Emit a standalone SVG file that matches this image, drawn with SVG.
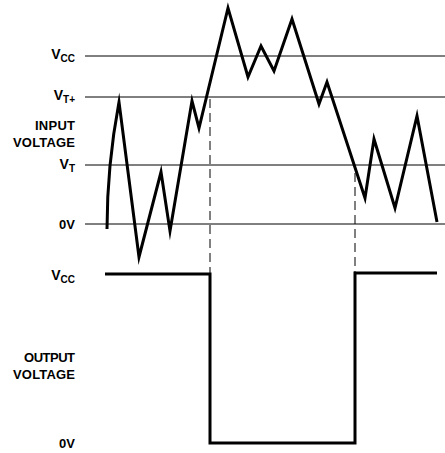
<svg xmlns="http://www.w3.org/2000/svg" width="445" height="453" viewBox="0 0 445 453">
<style>
.lbl{font-family:"Liberation Sans",Arial,sans-serif;font-weight:bold;font-size:13px;fill:#000;text-anchor:end}
.big{font-size:14px}
.sub{font-size:10px}
.grid{stroke:#000;stroke-width:1;fill:none}
.wave{stroke:#000;stroke-width:3;fill:none;stroke-linejoin:miter;stroke-miterlimit:10}
.dash{stroke:#000;stroke-width:1;fill:none;stroke-dasharray:9,5}
</style>
<rect width="445" height="453" fill="#fff"/>
<g id="labels">
<text class="lbl big" x="75" y="59">V<tspan class="sub" dy="3">CC</tspan></text>
<text class="lbl big" x="75" y="100">V<tspan class="sub" dy="3">T+</tspan></text>
<text class="lbl" x="75" y="130" textLength="40">INPUT</text>
<text class="lbl" x="75" y="147" textLength="62">VOLTAGE</text>
<text class="lbl big" x="75" y="169">V<tspan class="sub" dy="3">T</tspan></text>
<text class="lbl" x="75" y="229">0V</text>
<text class="lbl big" x="75" y="280">V<tspan class="sub" dy="3">CC</tspan></text>
<text class="lbl" x="75" y="362" textLength="51">OUTPUT</text>
<text class="lbl" x="75" y="379" textLength="62">VOLTAGE</text>
<text class="lbl" x="75" y="448">0V</text>
</g>
<g id="levels">
<line class="grid" x1="85" y1="56" x2="445" y2="56"/>
<line class="grid" x1="85" y1="97" x2="445" y2="97"/>
<line class="grid" x1="85" y1="165" x2="445" y2="165"/>
<line class="grid" x1="85" y1="224" x2="445" y2="224"/>
</g>
<g id="connectors">
<line class="dash" x1="210" y1="99" x2="210" y2="273"/>
<line class="dash" x1="355" y1="173" x2="355" y2="273"/>
</g>
<g id="input-wave">
<path class="wave" d="M107,229 C107,190 110,150 119,102 L139,257 L161,172 L170,231 L192,101 L199,128 L228,8 L248,77 L261,46 L274,71 L292,19 L319,104 L327,82 L365,198 L374,139 L395,208 L417,116 L437,222"/>
</g>
<g id="output-wave">
<path class="wave" d="M105,274 L210,274 L210,443 L355,443 L355,273 L437,273"/>
</g>
</svg>
